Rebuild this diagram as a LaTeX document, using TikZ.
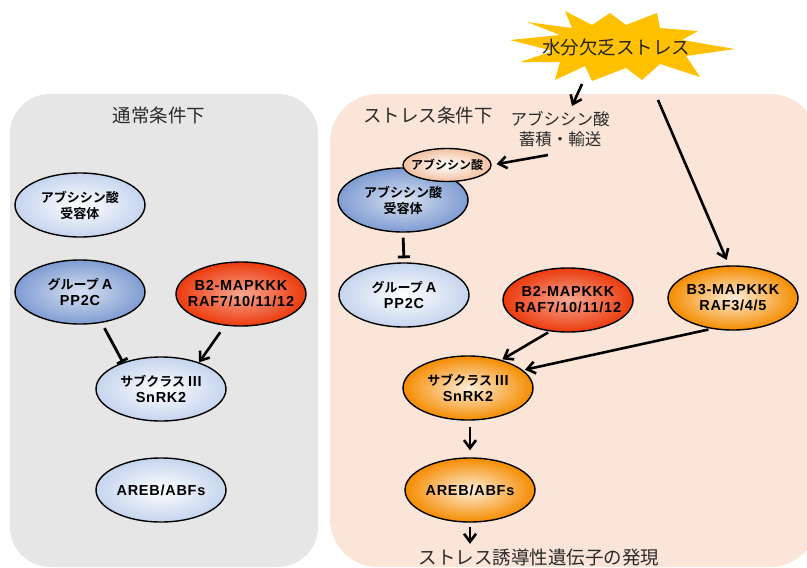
\documentclass[tikz,border=0pt]{standalone}
\usepackage{fontspec}
\setmainfont{Noto Sans CJK JP}[BoldFont={Noto Sans CJK JP Bold}]
\newfontfamily\latf{Liberation Sans}[LetterSpace=5]
\usetikzlibrary{shapes.geometric,arrows.meta}
\definecolor{graypanel}{HTML}{E6E6E6}
\definecolor{peachpanel}{HTML}{FAE5D8}
\definecolor{burstyellow}{HTML}{FFC000}
\definecolor{paleblue}{HTML}{C5D4EE}
\definecolor{midblue}{HTML}{7F9CD2}
\definecolor{redorange}{HTML}{EC3A0C}
\definecolor{orangeout}{HTML}{F58C00}
\definecolor{peachout}{HTML}{F2C0A0}
\definecolor{titlegray}{HTML}{2A2A2A}
\newcommand{\lt}[1]{{\latf\bfseries\fontsize{14.5}{16}\selectfont #1}}
\begin{document}
\begin{tikzpicture}[x=1pt,y=-1pt,
  ell/.style={ellipse, draw=black, line width=1.4pt, minimum width=130pt, minimum height=64pt, inner xsep=-25pt, inner ysep=-8pt, align=center, font=\bfseries\fontsize{13}{16}\selectfont},
  palenode/.style={ell, inner color=white, outer color=paleblue},
  bluenode/.style={ell, inner color=white!70!midblue, outer color=midblue},
  rednode/.style={ell, inner color=white!55!redorange, outer color=redorange},
  orangenode/.style={ell, inner color=white!85!orangeout, outer color=orangeout},
  title/.style={text=titlegray, font=\fontsize{18.5}{22}\selectfont, align=center},
  arr/.style={line width=2.6pt, -{Straight Barb[length=8pt,width=12pt,line width=2.6pt]}},
  inh/.style={line width=2.8pt, -{Bar[width=12pt,line width=2.8pt]}},
]
\useasboundingbox (0,0) rectangle (807,568);
\clip (0,0) rectangle (807,568);
% panels
\fill[graypanel, rounded corners=40pt] (10,94) rectangle (318,567);
\fill[peachpanel, rounded corners=48pt] (330,94) rectangle (818,567);
% titles
\node[title] (tnorm) at (159,115) {通常条件下};
\node[title] (tstress) at (428,115) {ストレス条件下};
\node[title, font=\fontsize{16.5}{19.5}\selectfont] (abatext) at (560,129) {アブシシン酸\\蓄積・輸送};
\node[title] (genes) at (539,558) {ストレス誘導性遺伝子の発現};
% starburst
\fill[burstyellow] (510,40) -- (560,35) -- (527,22) -- (572,28) -- (565,11) -- (592,25) -- (610,13)
  -- (626,25) -- (657,13) -- (660,28) -- (698,31) -- (682,40) -- (735,49) -- (686,56) -- (700,77)
  -- (660,64) -- (642,80) -- (626,68) -- (592,81) -- (585,66) -- (555,80) -- (560,62) -- (520,62)
  -- (553,51) -- cycle;
\node[font=\fontsize{18.5}{20}\selectfont, text=black!85] (burst) at (616,47) {水分欠乏ストレス};
\coordinate (b1) at (582,84);
\coordinate (b2) at (658,100);
% left nodes
\node[palenode] (recL) at (80,205) {アブシシン酸\\受容体};
\node[bluenode] (ppL) at (80,292) {グループ \lt{A}\\\lt{PP2C}};
\node[rednode] (b2L) at (241,294) {\lt{B2-MAPKKK}\\\lt{RAF7/10/11/12}};
\node[palenode] (snL) at (161,389) {サブクラス \lt{III}\\\lt{SnRK2}};
\node[palenode] (arL) at (161,490) {\lt{AREB/ABFs}};
% right nodes
\node[bluenode] (recR) at (403,200) {アブシシン酸\\受容体};
\node[ell, minimum width=88pt, minimum height=33pt, inner color=white, outer color=peachout, font=\bfseries\fontsize{12}{13}\selectfont] (abaS) at (447,165) {アブシシン酸};
\node[palenode] (ppR) at (404,295) {グループ \lt{A}\\\lt{PP2C}};
\node[rednode] (b2R) at (568,300) {\lt{B2-MAPKKK}\\\lt{RAF7/10/11/12}};
\node[orangenode] (b3R) at (733,298) {\lt{B3-MAPKKK}\\\lt{RAF3/4/5}};
\node[orangenode] (snR) at (468,388) {サブクラス \lt{III}\\\lt{SnRK2}};
\node[orangenode] (arR) at (470,490) {\lt{AREB/ABFs}};
% left connectors
\draw[inh, shorten <=6pt, shorten >=0pt] (ppL.305) -- (snL.145);
\draw[arr, shorten <=8pt, shorten >=0pt] (b2L.243) -- (snL.35);
% right connectors
\coordinate (a1) at (572,106);
\draw[arr] (b1) -- (a1);
\coordinate (a2) at (548,155);
\draw[arr, shorten >=5pt] (a2) -- (abaS.east);
\draw[arr, shorten >=6pt] (b2) -- (b3R.97);
\draw[inh, shorten <=5pt, shorten >=4pt] (recR.south) -- (ppR.north);
\draw[arr, shorten <=2pt, shorten >=1pt] (b2R.240) -- (snR.40);
\draw[arr, shorten <=3pt, shorten >=2pt] (b3R.235) -- (snR.18);
\draw[arr, shorten <=6pt, shorten >=7pt] (snR.south -| arR.north) -- (arR.north);
\draw[arr, shorten <=4pt, shorten >=2pt] (arR.south) -- (arR.south |- genes.north);
\end{tikzpicture}
\end{document}
